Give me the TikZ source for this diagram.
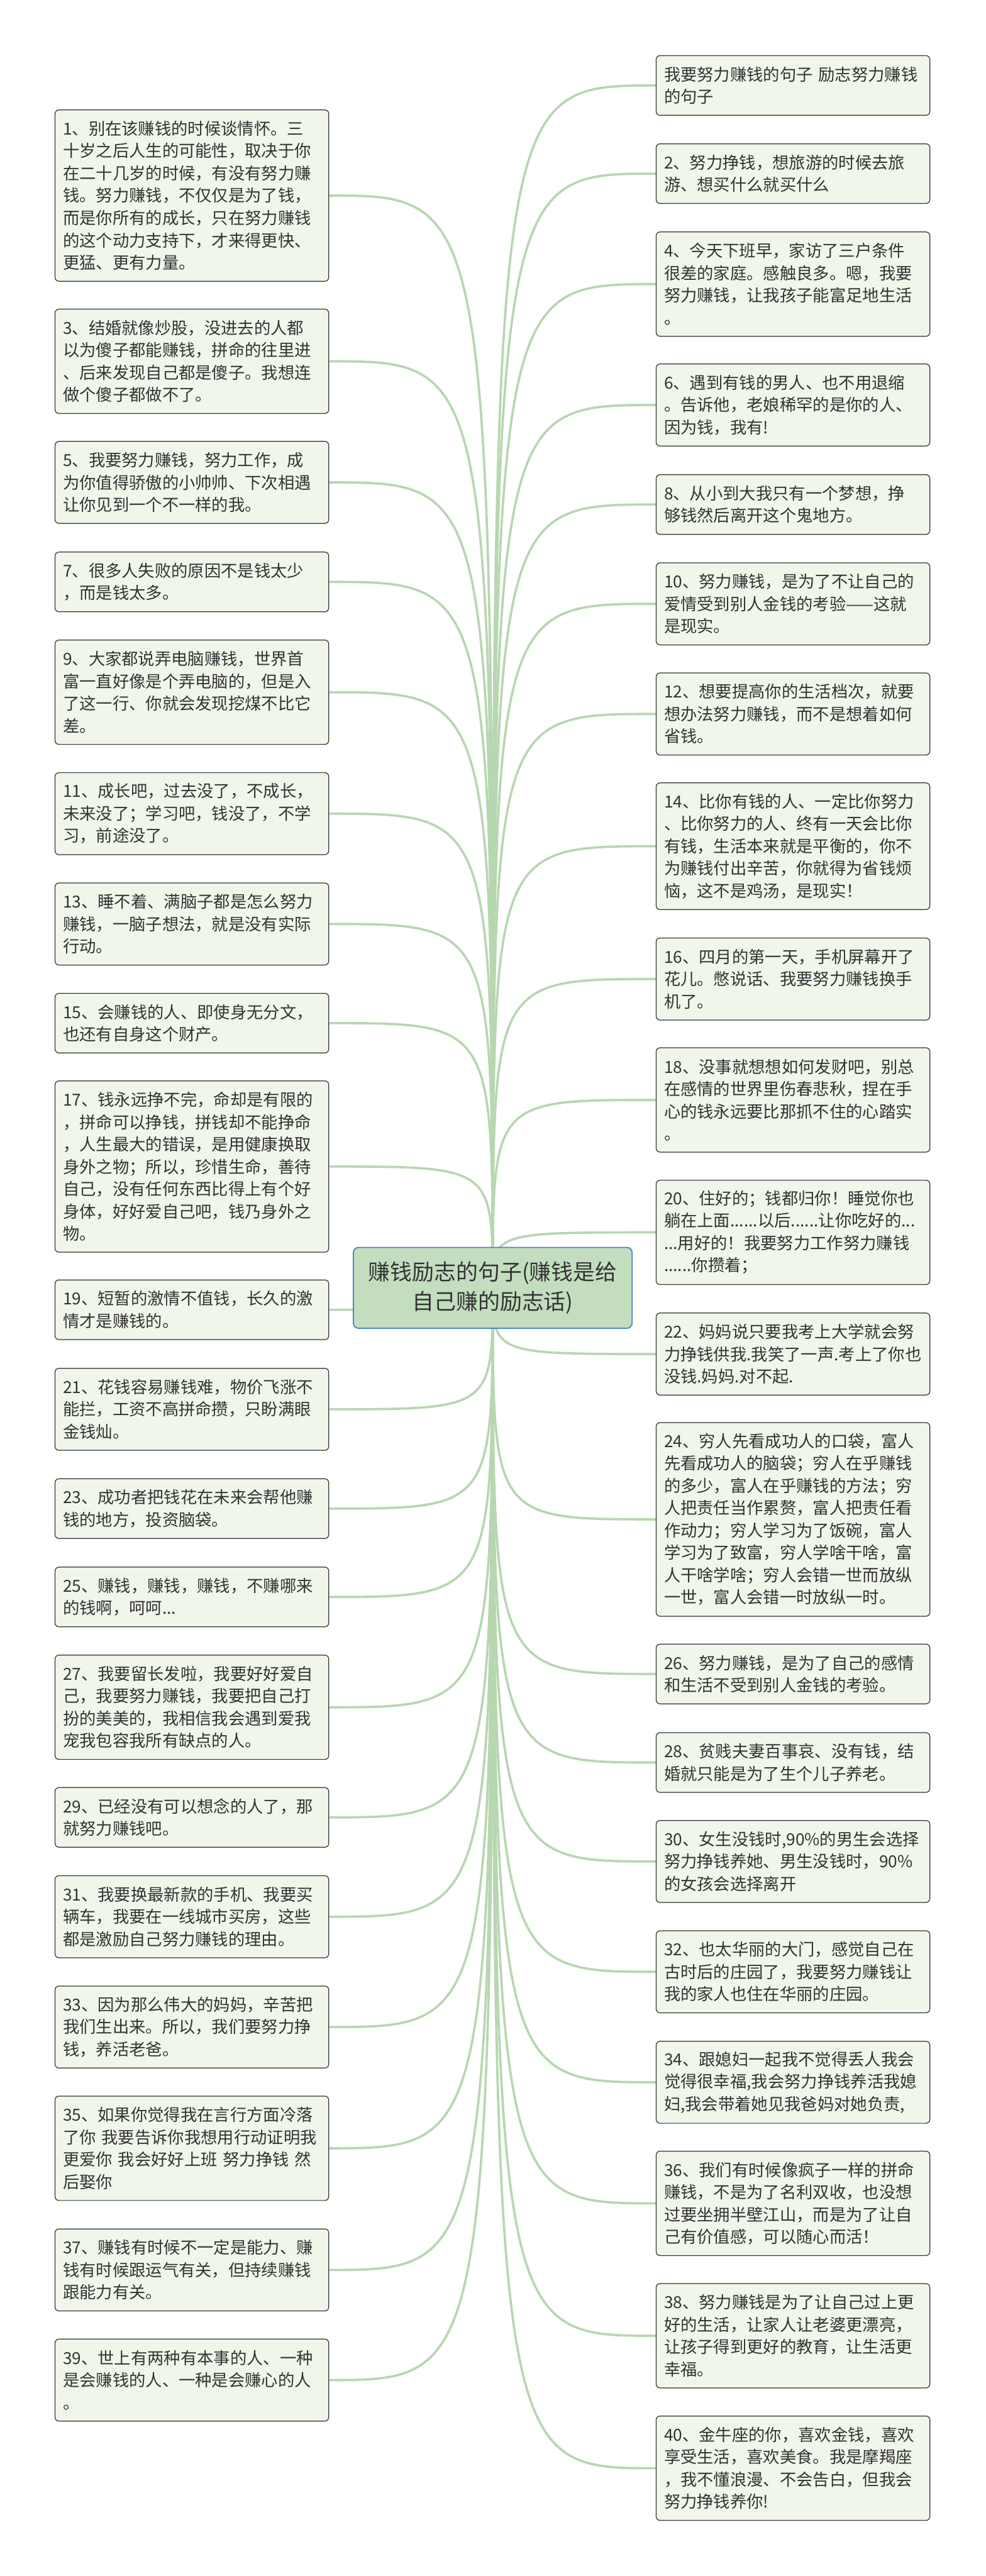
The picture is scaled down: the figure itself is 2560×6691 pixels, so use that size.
\documentclass[tikz,border=0pt]{standalone}
\usepackage{fontspec}
\setmainfont{Noto Sans CJK SC}
\usetikzlibrary{backgrounds}

\definecolor{leaffill}{HTML}{F0F6EA}
\definecolor{rootfill}{HTML}{C3DDBE}
\definecolor{rootline}{HTML}{4A82D0}
\definecolor{linkgreen}{HTML}{B7D7B0}
\definecolor{textgray}{HTML}{333333}

\tikzset{
	leaf/.style={draw=textgray, line width=0.6pt, fill=leaffill, rounded corners=3pt,
		text=textgray, font=\fontsize{12.9}{17.4}\selectfont, align=left,
		text width=201pt, inner xsep=6.15pt, inner ysep=0pt,
		minimum height={(39+58*#1)*0.3pt}},
	root/.style={draw=rootline, line width=0.9pt, fill=rootfill, rounded corners=4pt,
		text=textgray, font=\fontsize{17.1}{23.1}\selectfont, align=center,
		minimum width=217.2pt, minimum height=63pt},
	link/.style={draw=linkgreen, line width=1.8pt}
}

\begin{document}
\begin{tikzpicture}[x=0.3pt, y=-0.3pt]
\useasboundingbox (0,0) rectangle (2560,6691);

\node[root] (root) at (1280,3345) {赚钱励志的句子(赚钱是给\\自己赚的励志话)};

% left column
\node[leaf=7] (l1) at (498.5,508) {1、别在该赚钱的时候谈情怀。三\\十岁之后人生的可能性，取决于你\\在二十几岁的时候，有没有努力赚\\钱。努力赚钱，不仅仅是为了钱，\\而是你所有的成长，只在努力赚钱\\的这个动力支持下，才来得更快、\\更猛、更有力量。};
\node[leaf=4] (l3) at (498.5,938.5) {3、结婚就像炒股，没进去的人都\\以为傻子都能赚钱，拼命的往里进\\、后来发现自己都是傻子。我想连\\做个傻子都做不了。};
\node[leaf=3] (l5) at (498.5,1253) {5、我要努力赚钱，努力工作，成\\为你值得骄傲的小帅帅、下次相遇\\让你见到一个不一样的我。};
\node[leaf=2] (l7) at (498.5,1511.5) {7、很多人失败的原因不是钱太少\\，而是钱太多。};
\node[leaf=4] (l9) at (498.5,1798) {9、大家都说弄电脑赚钱，世界首\\富一直好像是个弄电脑的，但是入\\了这一行、你就会发现挖煤不比它\\差。};
\node[leaf=3] (l11) at (498.5,2113.5) {11、成长吧，过去没了，不成长，\\未来没了；学习吧，钱没了，不学\\习，前途没了。};
\node[leaf=3] (l13) at (498.5,2400) {13、睡不着、满脑子都是怎么努力\\赚钱，一脑子想法，就是没有实际\\行动。};
\node[leaf=2] (l15) at (498.5,2657.5) {15、会赚钱的人、即使身无分文，\\也还有自身这个财产。};
\node[leaf=7] (l17) at (498.5,3030) {17、钱永远挣不完，命却是有限的\\，拼命可以挣钱，拼钱却不能挣命\\，人生最大的错误，是用健康换取\\身外之物；所以，珍惜生命，善待\\自己，没有任何东西比得上有个好\\身体，好好爱自己吧，钱乃身外之\\物。};
\node[leaf=2] (l19) at (498.5,3402) {19、短暂的激情不值钱，长久的激\\情才是赚钱的。};
\node[leaf=3] (l21) at (498.5,3660.5) {21、花钱容易赚钱难，物价飞涨不\\能拦，工资不高拼命攒，只盼满眼\\金钱灿。};
\node[leaf=2] (l23) at (498.5,3918.5) {23、成功者把钱花在未来会帮他赚\\钱的地方，投资脑袋。};
\node[leaf=2] (l25) at (498.5,4148) {25、赚钱，赚钱，赚钱，不赚哪来\\的钱啊，呵呵...};
\node[leaf=4] (l27) at (498.5,4434.5) {27、我要留长发啦，我要好好爱自\\己，我要努力赚钱，我要把自己打\\扮的美美的，我相信我会遇到爱我\\宠我包容我所有缺点的人。};
\node[leaf=2] (l29) at (498.5,4720.5) {29、已经没有可以想念的人了，那\\就努力赚钱吧。};
\node[leaf=3] (l31) at (498.5,4978.5) {31、我要换最新款的手机、我要买\\辆车，我要在一线城市买房，这些\\都是激励自己努力赚钱的理由。};
\node[leaf=3] (l33) at (498.5,5265) {33、因为那么伟大的妈妈，辛苦把\\我们生出来。所以，我们要努力挣\\钱，养活老爸。};
\node[leaf=4] (l35) at (498.5,5580) {35、如果你觉得我在言行方面冷落\\了你 我要告诉你我想用行动证明我\\更爱你 我会好好上班 努力挣钱 然\\后娶你};
\node[leaf=3] (l37) at (498.5,5896) {37、赚钱有时候不一定是能力、赚\\钱有时候跟运气有关，但持续赚钱\\跟能力有关。};
\node[leaf=3] (l39) at (498.5,6182) {39、世上有两种有本事的人、一种\\是会赚钱的人、一种是会赚心的人\\。};

% right column
\node[leaf=2] (head) at (2060,222) {我要努力赚钱的句子 励志努力赚钱\\的句子};
\node[leaf=2] (r2) at (2060,451) {2、努力挣钱，想旅游的时候去旅\\游、想买什么就买什么};
\node[leaf=4] (r4) at (2060,738) {4、今天下班早，家访了三户条件\\很差的家庭。感触良多。嗯，我要\\努力赚钱，让我孩子能富足地生活\\。};
\node[leaf=3] (r6) at (2060,1052) {6、遇到有钱的男人、也不用退缩\\。告诉他，老娘稀罕的是你的人、\\因为钱，我有!};
\node[leaf=2] (r8) at (2060,1310.5) {8、从小到大我只有一个梦想，挣\\够钱然后离开这个鬼地方。};
\node[leaf=3] (r10) at (2060,1568.5) {10、努力赚钱，是为了不让自己的\\爱情受到别人金钱的考验——这就\\是现实。};
\node[leaf=3] (r12) at (2060,1854.5) {12、想要提高你的生活档次，就要\\想办法努力赚钱，而不是想着如何\\省钱。};
\node[leaf=5] (r14) at (2060,2198) {14、比你有钱的人、一定比你努力\\、比你努力的人、终有一天会比你\\有钱，生活本来就是平衡的，你不\\为赚钱付出辛苦，你就得为省钱烦\\恼，这不是鸡汤，是现实！};
\node[leaf=3] (r16) at (2060,2543) {16、四月的第一天，手机屏幕开了\\花儿。憋说话、我要努力赚钱换手\\机了。};
\node[leaf=4] (r18) at (2060,2857) {18、没事就想想如何发财吧，别总\\在感情的世界里伤春悲秋，捏在手\\心的钱永远要比那抓不住的心踏实\\。};
\node[leaf=4] (r20) at (2060,3201) {20、住好的；钱都归你！睡觉你也\\躺在上面......以后......让你吃好的...\\...用好的！我要努力工作努力赚钱\\......你攒着；};
\node[leaf=3] (r22) at (2060,3517) {22、妈妈说只要我考上大学就会努\\力挣钱供我.我笑了一声.考上了你也\\没钱.妈妈.对不起.};
\node[leaf=8] (r24) at (2060,3946.5) {24、穷人先看成功人的口袋，富人\\先看成功人的脑袋；穷人在乎赚钱\\的多少，富人在乎赚钱的方法；穷\\人把责任当作累赘，富人把责任看\\作动力；穷人学习为了饭碗，富人\\学习为了致富，穷人学啥干啥，富\\人干啥学啥；穷人会错一世而放纵\\一世，富人会错一时放纵一时。};
\node[leaf=2] (r26) at (2060,4348) {26、努力赚钱，是为了自己的感情\\和生活不受到别人金钱的考验。};
\node[leaf=2] (r28) at (2060,4578) {28、贫贱夫妻百事哀、没有钱，结\\婚就只能是为了生个儿子养老。};
\node[leaf=3] (r30) at (2060,4835) {30、女生没钱时,90\%的男生会选择\\努力挣钱养她、男生没钱时，90\%\\的女孩会选择离开};
\node[leaf=3] (r32) at (2060,5121.5) {32、也太华丽的大门，感觉自己在\\古时后的庄园了，我要努力赚钱让\\我的家人也住在华丽的庄园。};
\node[leaf=3] (r34) at (2060,5408.5) {34、跟媳妇一起我不觉得丢人我会\\觉得很幸福,我会努力挣钱养活我媳\\妇,我会带着她见我爸妈对她负责,};
\node[leaf=4] (r36) at (2060,5723) {36、我们有时候像疯子一样的拼命\\赚钱，不是为了名利双收，也没想\\过要坐拥半壁江山，而是为了让自\\己有价值感，可以随心而活！};
\node[leaf=4] (r38) at (2060,6067) {38、努力赚钱是为了让自己过上更\\好的生活，让家人让老婆更漂亮，\\让孩子得到更好的教育，让生活更\\幸福。};
\node[leaf=4] (r40) at (2060,6411) {40、金牛座的你，喜欢金钱，喜欢\\享受生活，喜欢美食。我是摩羯座\\，我不懂浪漫、不会告白，但我会\\努力挣钱养你!};

\begin{scope}[on background layer]
\fill[white] (0,0) rectangle (2560,6691);
\foreach \i in {1,3,...,39}
	\draw[link] (root.center) .. controls (root.center |- l\i.east) .. (l\i.east);
\draw[link] (root.center) .. controls (root.center |- head.west) .. (head.west);
\foreach \i in {2,4,...,40}
	\draw[link] (root.center) .. controls (root.center |- r\i.west) .. (r\i.west);
\end{scope}
\end{tikzpicture}
\end{document}
